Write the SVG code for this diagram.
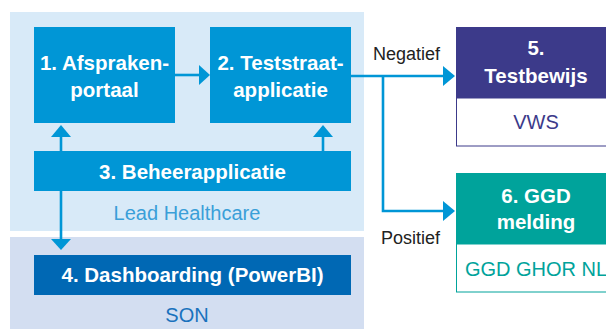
<svg xmlns="http://www.w3.org/2000/svg" width="606" height="329" viewBox="0 0 606 329">
<style>
.b{font-family:"Liberation Sans",Arial,sans-serif;font-weight:bold;font-size:20.5px;fill:#fff;text-anchor:middle}
.r{font-family:"Liberation Sans",Arial,sans-serif;font-size:20px;text-anchor:middle}
.l{font-family:"Liberation Sans",Arial,sans-serif;font-size:18px;fill:#222}
.c{stroke:#0096d6;stroke-width:2.6;fill:none}
.h{fill:#0096d6}
</style>
<rect width="606" height="329" fill="#fff"/>
<g id="lead-healthcare">
<rect x="10" y="12" width="354" height="219" fill="#d8eaf8"/>
<text class="r" x="187" y="220" fill="#3a9fd8">Lead Healthcare</text>
</g>
<g id="son">
<rect x="10" y="237" width="354" height="92" fill="#d3def1"/>
<text class="r" x="187" y="322" fill="#1a72bd">SON</text>
</g>
<g id="node1">
<rect x="34" y="27" width="141" height="96" fill="#0096d6"/>
<text class="b" x="104.5" y="70">1. Afspraken-</text>
<text class="b" x="104.5" y="97">portaal</text>
</g>
<g id="node2">
<rect x="210" y="27" width="141" height="96" fill="#0096d6"/>
<text class="b" x="280.5" y="70">2. Teststraat-</text>
<text class="b" x="280.5" y="97">applicatie</text>
</g>
<g id="node3">
<rect x="34" y="151" width="317" height="40" fill="#0096d6"/>
<text class="b" x="192.5" y="179">3. Beheerapplicatie</text>
</g>
<g id="node4">
<rect x="34" y="255" width="317" height="40" fill="#0068b4"/>
<text class="b" x="192.5" y="282">4. Dashboarding (PowerBI)</text>
</g>
<g id="node5">
<rect x="456" y="27" width="160" height="71" fill="#3c3a8a"/>
<rect x="456.5" y="98" width="160" height="48" fill="#fff" stroke="#3c3a8a" stroke-width="1"/>
<text class="b" x="536" y="55">5.</text>
<text class="b" x="536" y="83">Testbewijs</text>
<text class="r" x="536" y="129" fill="#3c3a8a">VWS</text>
</g>
<g id="node6">
<rect x="456" y="173" width="160" height="71" fill="#00a39b"/>
<rect x="456.5" y="244" width="160" height="48" fill="#fff" stroke="#00a39b" stroke-width="1"/>
<text class="b" x="536" y="203">6. GGD</text>
<text class="b" x="536" y="229">melding</text>
<text class="r" x="536" y="276" fill="#00a39b">GGD GHOR NL</text>
</g>
<g id="connectors">
<line class="c" x1="175" y1="75" x2="200" y2="75"/>
<polygon class="h" points="199,65 210,75 199,85"/>
<line class="c" x1="61" y1="151" x2="61" y2="136"/>
<polygon class="h" points="51,137 61,125 71,137"/>
<line class="c" x1="323" y1="151" x2="323" y2="136"/>
<polygon class="h" points="313,137 323,125 333,137"/>
<line class="c" x1="61" y1="191" x2="61" y2="240"/>
<polygon class="h" points="51,239 61,250 71,239"/>
<polyline class="c" points="351,76 444,76"/>
<polygon class="h" points="443,66 455,76 443,86"/>
<polyline class="c" points="383,76 383,211 444,211"/>
<polygon class="h" points="443,201 455,211 443,221"/>
<text class="l" x="373" y="60">Negatief</text>
<text class="l" x="381" y="244">Positief</text>
</g>
</svg>
